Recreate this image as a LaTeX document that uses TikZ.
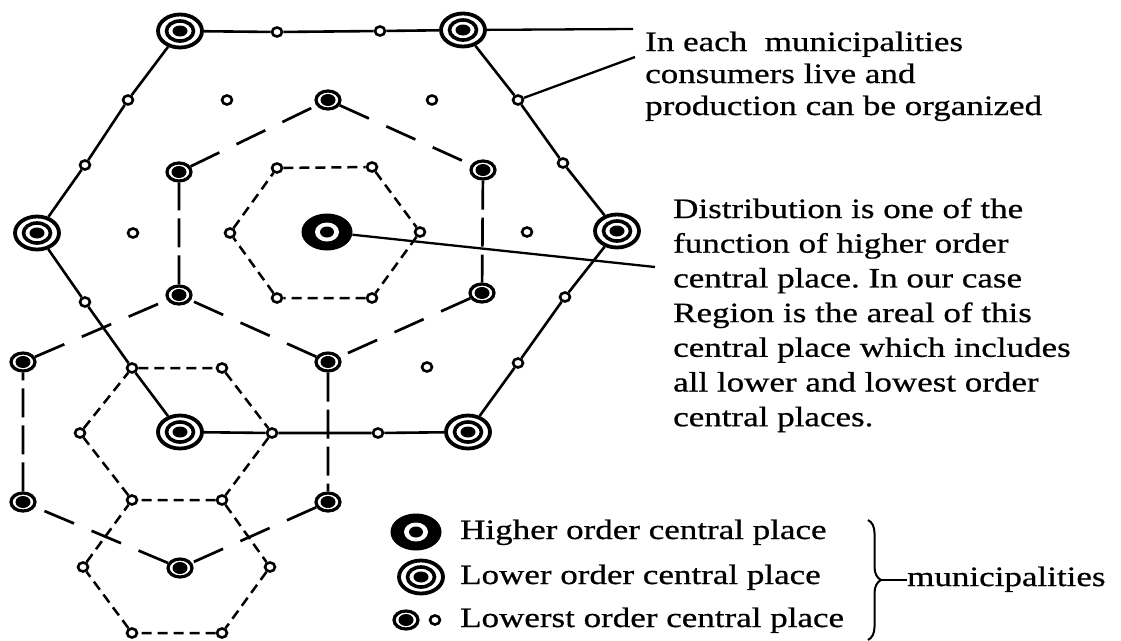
\documentclass[tikz,border=0pt]{standalone}
\usepackage{fontspec}
\setmainfont{Liberation Serif}[FakeStretch=1.25,FakeBold=0.7]
\usetikzlibrary{shapes.geometric,decorations.pathreplacing}
\begin{document}
\begin{tikzpicture}[x=1pt,y=-1pt,
  hiplace/.style={ellipse, fill=black, inner sep=0pt, minimum width=51pt, minimum height=37pt,
    path picture={\fill[white] (path picture bounding box.center) ellipse [x radius=12pt, y radius=9.5pt];
                  \fill[black] (path picture bounding box.center) ellipse [x radius=7pt, y radius=5.5pt];}},
  loplace/.style={ellipse, draw, line width=3.8pt, fill=white, inner sep=0pt, minimum width=44pt, minimum height=33pt,
    path picture={\draw[black, line width=3.6pt] (path picture bounding box.center) ellipse [x radius=13.5pt, y radius=10pt];
                  \fill[black] (path picture bounding box.center) ellipse [x radius=7.5pt, y radius=5.5pt];}},
  rdplace/.style={ellipse, draw, line width=3.2pt, fill=white, inner sep=0pt, minimum width=24pt, minimum height=18pt,
    path picture={\fill[black] (path picture bounding box.center) ellipse [x radius=7.5pt, y radius=6pt];}},
  smplace/.style={ellipse, draw, line width=2.6pt, fill=white, inner sep=0pt, minimum width=10pt, minimum height=9pt},
  hexline/.style={line width=2.6pt},
  medslant/.style={line width=2.7pt, dash pattern=on 32pt off 19pt},
  medvert/.style={line width=2.7pt, dash pattern=on 29pt off 8pt},
  innerdash/.style={line width=2.5pt, dash pattern=on 10pt off 6pt},
  leader/.style={line width=2.3pt},
  txt/.style={anchor=base west, inner sep=0pt, font=\fontsize{28}{34}\selectfont}
]
\useasboundingbox (0,0) rectangle (1121,640);
\fill[white] (0,0) rectangle (1121,640);

% Lower order central places (double rings)
\node[loplace] (L1) at (180,31) {};
\node[loplace] (L2) at (463,30) {};
\node[loplace] (L3) at (617,231) {};
\node[loplace] (L4) at (468,432) {};
\node[loplace] (L5) at (180,432) {};
\node[loplace] (L6) at (37,233) {};
% Higher order central place
\node[hiplace] (H) at (327,232) {};
% ring-dot places (medium hexagons)
\node[rdplace] (R1) at (328,100) {};
\node[rdplace] (R2) at (483,170) {};
\node[rdplace] (R3) at (482,293) {};
\node[rdplace] (R4) at (328,362) {};
\node[rdplace] (R5) at (179,295) {};
\node[rdplace] (R6) at (179,172) {};
\node[rdplace] (R7) at (328,502) {};
\node[rdplace] (R8) at (180,568) {};
\node[rdplace] (R9) at (23,502) {};
\node[rdplace] (R10) at (23,362) {};
% small circles on big hexagon
\node[smplace] (a1) at (277,32) {};
\node[smplace] (a2) at (380,31) {};
\node[smplace] (b1) at (518,100) {};
\node[smplace] (b2) at (563,163) {};
\node[smplace] (c1) at (565,297) {};
\node[smplace] (c2) at (518,363) {};
\node[smplace] (d1) at (378,433) {};
\node[smplace] (d2) at (272,433) {};
\node[smplace] (e1) at (132,368) {};
\node[smplace] (e2) at (85,302) {};
\node[smplace] (f1) at (85,165) {};
\node[smplace] (f2) at (128,100) {};
% inner dashed hexagon 1
\node[smplace] (g1) at (277,168) {};
\node[smplace] (g2) at (372,167) {};
\node[smplace] (g3) at (420,232) {};
\node[smplace] (g4) at (372,298) {};
\node[smplace] (g5) at (277,298) {};
\node[smplace] (g6) at (230,233) {};
% inner dashed hexagon 2
\node[smplace] (h2) at (222,368) {};
\node[smplace] (h4) at (222,500) {};
\node[smplace] (h5) at (132,500) {};
\node[smplace] (h6) at (80,433) {};
% inner dashed hexagon 3
\node[smplace] (k3) at (270,567) {};
\node[smplace] (k4) at (222,633) {};
\node[smplace] (k5) at (132,633) {};
\node[smplace] (k6) at (83,567) {};
% isolated small circles
\node[smplace] (i1) at (227,100) {};
\node[smplace] (i2) at (432,100) {};
\node[smplace] (i3) at (133,233) {};
\node[smplace] (i4) at (527,232) {};
\node[smplace] (i5) at (427,367) {};

% big solid hexagon
\draw[hexline] (L1)--(a1) (a1)--(a2) (a2)--(L2) (L2)--(b1) (b1)--(b2) (b2)--(L3)
  (L3)--(c1) (c1)--(c2) (c2)--(L4) (L4)--(d1) (d1)--(d2) (d2)--(L5)
  (L5)--(e1) (e1)--(e2) (e2)--(L6) (L6)--(f1) (f1)--(f2) (f2)--(L1);
% medium hexagons (long dashes)
\draw[medslant] (R1)--(R2) (R3)--(R4) (R4)--(R5) (R6)--(R1) (R7)--(R8) (R8)--(R9) (R10)--(R5);
\draw[medvert] (R2)--(R3) (R5)--(R6) (R4)--(R7) (R9)--(R10);
% inner dashed hexagons
\draw[innerdash] (g1)--(g2) (g2)--(g3) (g3)--(g4) (g4)--(g5) (g5)--(g6) (g6)--(g1);
\draw[innerdash] (e1)--(h2) (h2)--(d2) (d2)--(h4) (h4)--(h5) (h5)--(h6) (h6)--(e1);
\draw[innerdash] (h4)--(k3) (k3)--(k4) (k4)--(k5) (k5)--(k6) (k6)--(h5);

% leaders and annotations
\coordinate (t1) at (633,29);
\coordinate (t2) at (635,57);
\coordinate (t3) at (655,267);
\draw[leader] (L2) -- (t1);
\draw[leader] (b1) -- (t2);
\draw[leader] (H) -- (t3);

\node[txt] (p1) at (645,51) {In each~ municipalities};
\node[txt] (p2) at (645,83) {consumers live and};
\node[txt] (p3) at (645,115) {production can be organized};

\node[txt] (q1) at (673,218) {Distribution is one of the};
\node[txt] (q2) at (673,252.7) {function of higher order};
\node[txt] (q3) at (673,287.4) {\frenchspacing central place. In our case};
\node[txt] (q4) at (673,322.1) {Region is the areal of this};
\node[txt] (q5) at (673,356.8) {central place which includes};
\node[txt] (q6) at (673,391.5) {all lower and lowest order};
\node[txt] (q7) at (673,426.2) {central places.};

% legend
\node[hiplace] (lgH) at (416,532) {};
\node[loplace] (lgL) at (421,577) {};
\node[rdplace] (lgR) at (406,620) {};
\node[smplace] (lgS) at (435,620) {};
\node[txt] (m1) at (460,539) {Higher order central place};
\node[txt] (m2) at (460,584) {Lower order central place};
\node[txt] (m3) at (460,627) {Lowerst order central place};
\draw[line width=2pt, decorate, decoration={brace, amplitude=13pt}] (868,520) -- (868,640);
\coordinate (bt) at (881,580);
\node[txt] (mu) at (907,586) {municipalities};
\draw[line width=2pt] (bt) -- (mu.west |- bt);
\end{tikzpicture}
\end{document}
